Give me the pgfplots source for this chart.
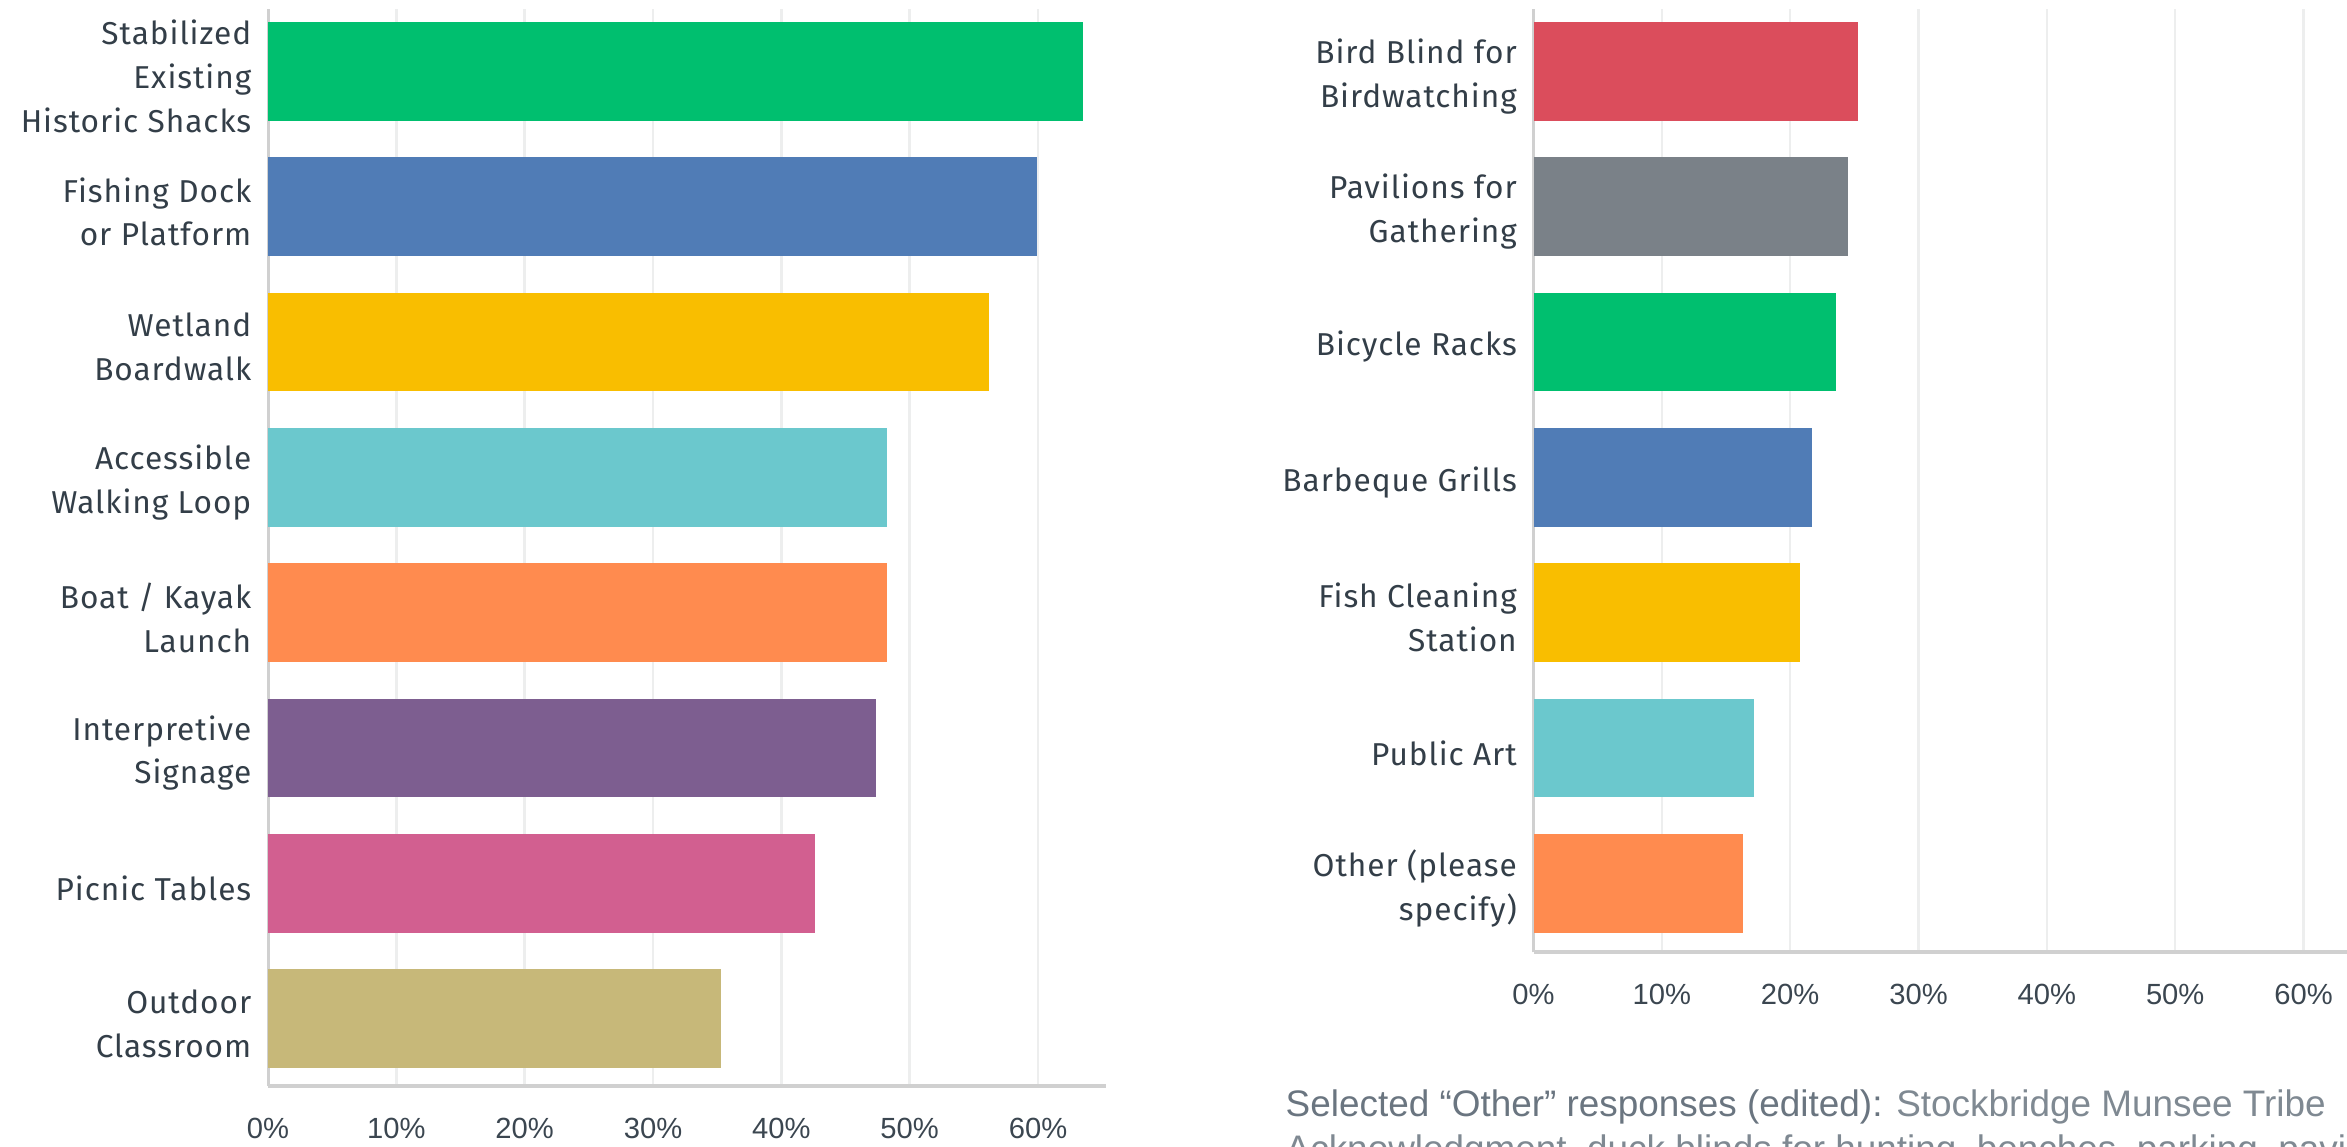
\documentclass[border=0pt]{standalone}
\usepackage{pgfplots}
\pgfplotsset{compat=1.18}
\usepackage{fontspec}
\setmainfont{Fira Sans}[LetterSpace=3]
\newfontfamily\tickfont{Liberation Sans}
\newfontfamily\notefont{Liberation Sans}

\definecolor{cGreen}{HTML}{00BF6F}
\definecolor{cBlue}{HTML}{507CB6}
\definecolor{cYellow}{HTML}{F9BE00}
\definecolor{cTeal}{HTML}{6BC8CD}
\definecolor{cOrange}{HTML}{FF8B4F}
\definecolor{cPurple}{HTML}{7D5E90}
\definecolor{cPink}{HTML}{D25F90}
\definecolor{cKhaki}{HTML}{C7B879}
\definecolor{cRed}{HTML}{DB4D5C}
\definecolor{cGray}{HTML}{7A8188}
\definecolor{labelcol}{HTML}{333E48}
\definecolor{tickcol}{HTML}{3B4650}
\definecolor{gridcol}{HTML}{EDEEEE}
\definecolor{axiscol}{HTML}{D0D0D0}
\definecolor{notedark}{HTML}{6A7580}
\definecolor{notelight}{HTML}{7F8992}

\pgfplotsset{
  survey/.style={
    scale only axis,
    anchor=south west,
    width=83.8mm,
    xmin=0, xmax=65.3,
    xbar, bar width=9.87mm, bar shift=0pt,
    axis lines*=left,
    axis line style={-, draw=axiscol},
    x axis line style={line width=0.4mm},
    y axis line style={line width=0.3mm},
    major tick length=0pt,
    tick label style={inner sep=0pt},
    xmajorgrids,
    grid style={draw=gridcol, line width=0.25mm},
    xtick={0,10,20,30,40,50,60},
    xticklabels={0\%,10\%,20\%,30\%,40\%,50\%,60\%},
    xticklabel style={anchor=base, yshift=-5.25mm, text=tickcol,
      font=\tickfont\fontsize{8.3pt}{10pt}\selectfont},
    yticklabel style={align=right, anchor=east, xshift=-1.6mm, yshift=-0.5mm, text=labelcol,
      font=\fontsize{9pt}{12.4pt}\selectfont},
    every axis plot/.append style={draw=none},
    ymax=0.4607,
  }
}

\begin{document}
\begin{tikzpicture}
\useasboundingbox (0,0) rectangle (234.7mm,114.6mm);
\clip (0,0) rectangle (234.7mm,114.6mm);

% Left chart
\begin{axis}[survey,
  at={(26.8mm,6.0mm)},
  height=107.7mm,
  ymin=-7.4976,
  ytick={0,-1,-2,-3,-4,-5,-6,-7},
  yticklabels={{Stabilized\\Existing\\Historic Shacks},
               {Fishing Dock\\or Platform},
               {Wetland\\Boardwalk},
               {Accessible\\Walking Loop},
               {Boat / Kayak\\Launch},
               {Interpretive\\Signage},
               {Picnic Tables},
               {Outdoor\\Classroom}},
]
\addplot[fill=cGreen]  coordinates {(63.5,0)};
\addplot[fill=cBlue]   coordinates {(59.9,-1)};
\addplot[fill=cYellow] coordinates {(56.2,-2)};
\addplot[fill=cTeal]   coordinates {(48.2,-3)};
\addplot[fill=cOrange] coordinates {(48.2,-4)};
\addplot[fill=cPurple] coordinates {(47.4,-5)};
\addplot[fill=cPink]   coordinates {(42.6,-6)};
\addplot[fill=cKhaki]  coordinates {(35.3,-7)};
\end{axis}

% Right chart
\begin{axis}[survey,
  at={(153.35mm,19.37mm)},
  height=94.33mm,
  ymin=-6.51,
  ytick={0,-1,-2,-3,-4,-5,-6},
  yticklabels={{Bird Blind for\\Birdwatching},
               {Pavilions for\\Gathering},
               {Bicycle Racks},
               {Barbeque Grills},
               {Fish Cleaning\\Station},
               {Public Art},
               {Other (please\\specify)}},
]
\addplot[fill=cRed]    coordinates {(25.3,0)};
\addplot[fill=cGray]   coordinates {(24.5,-1)};
\addplot[fill=cGreen]  coordinates {(23.6,-2)};
\addplot[fill=cBlue]   coordinates {(21.7,-3)};
\addplot[fill=cYellow] coordinates {(20.8,-4)};
\addplot[fill=cTeal]   coordinates {(17.2,-5)};
\addplot[fill=cOrange] coordinates {(16.3,-6)};
\end{axis}

% Note text
\node[anchor=base west, inner sep=0pt, font=\notefont\fontsize{10.5pt}{12pt}\selectfont]
  at (128.5mm,2.9mm) {\textcolor{notedark}{Selected “Other” responses (edited):} \textcolor{notelight}{Stockbridge Munsee Tribe}};
\node[anchor=base west, inner sep=0pt, font=\notefont\fontsize{10.5pt}{12pt}\selectfont, text=notelight]
  at (128.5mm,-1.5mm) {Acknowledgment, duck blinds for hunting, benches, parking, pavilions};
\end{tikzpicture}
\end{document}
